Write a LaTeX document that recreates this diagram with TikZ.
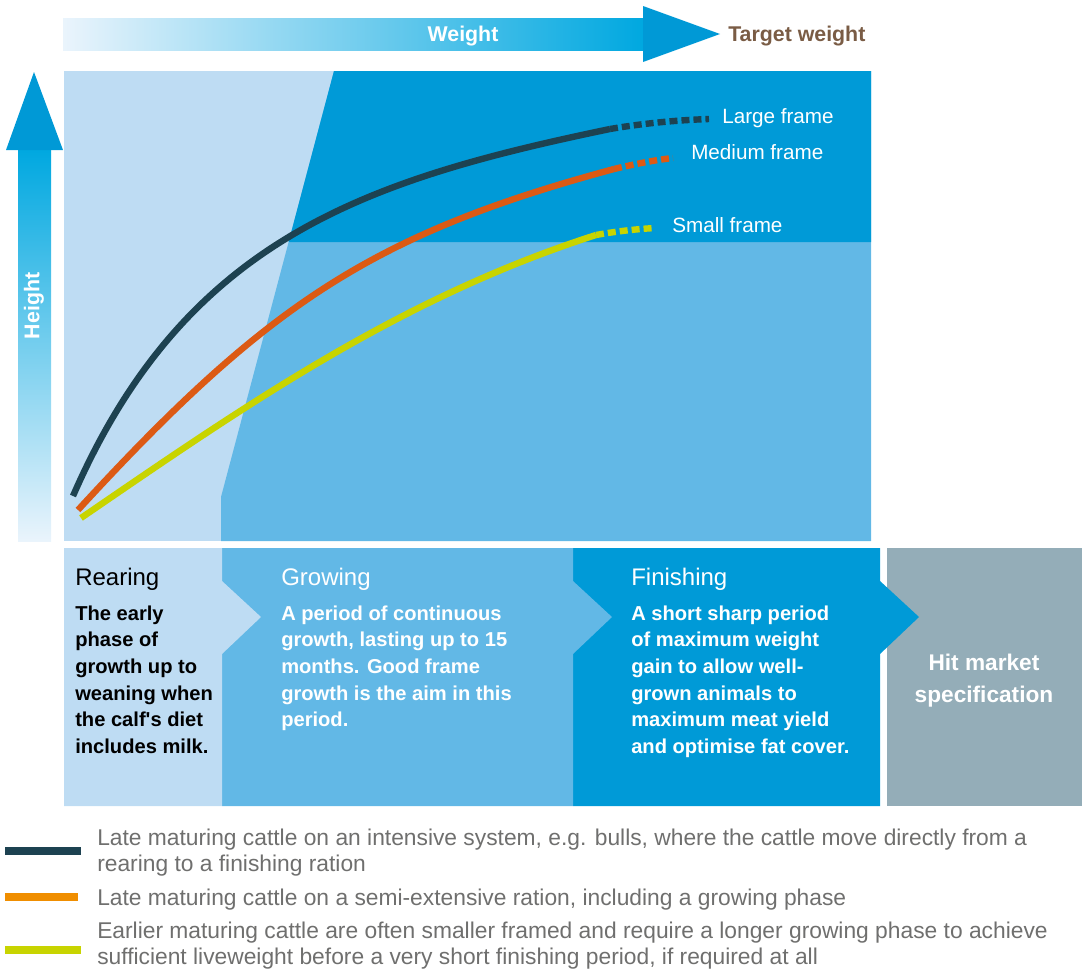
\documentclass[tikz,border=0pt]{standalone}
\usepackage{xcolor}
\usepackage{fontspec}
\setmainfont{Liberation Sans}

\definecolor{rearblue}{RGB}{190,220,243}
\definecolor{growblue}{RGB}{98,184,230}
\definecolor{finblue}{RGB}{0,154,215}
\definecolor{headblue}{RGB}{0,153,214}
\definecolor{cyanblue}{RGB}{0,168,224}
\definecolor{paleblue}{RGB}{234,244,252}
\definecolor{midblue}{RGB}{185,218,243}
\definecolor{marketgrey}{RGB}{148,173,184}
\definecolor{largecol}{RGB}{29,66,81}
\definecolor{mediumcol}{RGB}{220,90,20}
\definecolor{smallcol}{RGB}{200,212,0}
\definecolor{legorange}{RGB}{240,142,0}
\definecolor{targetbrown}{RGB}{122,92,69}
\definecolor{legendgrey}{RGB}{111,111,110}

\begin{document}
\begin{tikzpicture}[x=0.75pt,y=0.75pt,yscale=-1,xscale=1,
  curve/.style={line width=4.8pt},
  dashcurve/.style={line width=4.8pt,dash pattern=on 6pt off 3pt},
  framelabel/.style={anchor=base west,inner sep=0pt,text=white,font=\fontsize{15.5}{18}\selectfont},
  paneltitle/.style={anchor=base west,inner sep=0pt,font=\fontsize{18}{22}\selectfont},
  panelbody/.style={anchor=north west,inner sep=0pt,align=left,font=\fontsize{15.1}{20}\selectfont\bfseries},
  legendtext/.style={anchor=north west,inner sep=0pt,align=left,text=legendgrey,font=\fontsize{17.1}{19.5}\selectfont}]
\useasboundingbox (0,0) rectangle (1082,971);

%Shape: Weight arrow
\shade [left color=paleblue,middle color=midblue,right color=cyanblue] (63,18) rectangle (643,50) ;
\fill [headblue] (643,6) -- (720,34) -- (643,62) -- cycle ;
%Shape: Height arrow
\shade [top color=cyanblue,middle color={rgb,255:red,125;green,195;blue,236},bottom color=paleblue] (18,150) rectangle (51,541) ;
\fill [headblue] (6,150) -- (34,72) -- (63,150) -- cycle ;

%Shape: chart background
\fill [rearblue] (64,71) rectangle (871,541) ;
\fill [growblue] (334,71) -- (871,71) -- (871,541) -- (221,541) -- (221,497) -- cycle ;
\fill [finblue] (334,71) -- (871,71) -- (871,242) -- (288.6,242) -- cycle ;

%Curves: large, medium, small frame
\draw [curve,largecol] (73,496) .. controls (185,239) and (365,180) .. (610,129) ;
\draw [dashcurve,largecol] (610,129) .. controls (645,123) and (680,120) .. (709,119) ;
\draw [curve,mediumcol] (78,510) .. controls (267,304) and (373,234) .. (614,169) ;
\draw [dashcurve,mediumcol] (614,169) .. controls (635,164) and (655,160) .. (673,158) ;
\draw [curve,smallcol] (81,518) .. controls (246,405) and (400,298) .. (596,235) ;
\draw [dashcurve,smallcol] (596,235) .. controls (618,231) and (638,229) .. (655,228) ;

%Shape: phase panels
\fill [marketgrey] (887,548) rectangle (1082,806) ;
\fill [finblue] (573,548) -- (880,548) -- (880,581) -- (919,617) -- (880,654) -- (880,806) -- (573,806) -- cycle ;
\fill [growblue] (222,548) -- (573,548) -- (573,581) -- (612,617) -- (573,654) -- (573,806) -- (222,806) -- cycle ;
\fill [rearblue] (64,548) -- (222,548) -- (222,581) -- (261,617) -- (222,654) -- (222,806) -- (64,806) -- cycle ;

%Legend bars
\fill [largecol] (5,847) rectangle (81,855) ;
\fill [legorange] (5,893) rectangle (78,901) ;
\fill [smallcol] (5,946) rectangle (81,954) ;

% Text Node
\node [anchor=base,inner sep=0pt,text=white,font=\fontsize{16}{19}\selectfont\bfseries] (weightlbl) at (463,41.6) {Weight};
\node [anchor=base west,inner sep=0pt,text=targetbrown,font=\fontsize{16}{19}\selectfont\bfseries] (targetlbl) at (728,41.6) {Target weight};
\node [rotate=90,inner sep=0pt,text=white,font=\fontsize{16}{19}\selectfont\bfseries] (heightlbl) at (34,306) {Height};
% Text Node
\node [framelabel] (largelbl) at (722,123.3) {Large frame};
\node [framelabel] (mediumlbl) at (691,159.3) {Medium frame};
\node [framelabel] (smalllbl) at (672,232.3) {Small frame};
% Text Node
\node [paneltitle,text=black] (rearttl) at (75,585.5) {Rearing};
\node [panelbody,text=black] (rearbody) at (75,605.4) {The early\\phase of\\growth up to\\weaning when\\the calf\textquotesingle s diet\\includes milk.};
\node [paneltitle,text=white] (growttl) at (281,585.5) {Growing};
\node [panelbody,text=white] (growbody) at (281,605.4) {A period of continuous\\growth, lasting up to 15\\months. Good frame\\growth is the aim in this\\period.};
\node [paneltitle,text=white] (finttl) at (631,585.5) {Finishing};
\node [panelbody,text=white] (finbody) at (631,605.4) {A short sharp period\\of maximum weight\\gain to allow well-\\grown animals to\\maximum meat yield\\and optimise fat cover.};
\node [align=center,inner sep=0pt,text=white,font=\fontsize{17}{24}\selectfont\bfseries] (marketlbl) at (984,681) {Hit market\\specification};
% Text Node
\node [legendtext] (leglarge) at (97,829) {Late maturing cattle on an intensive system, e.g. bulls, where the cattle move directly from a\\rearing to a finishing ration};
\node [legendtext] (legmedium) at (97,889) {Late maturing cattle on a semi-extensive ration, including a growing phase};
\node [legendtext] (legsmall) at (97,921.5) {Earlier maturing cattle are often smaller framed and require a longer growing phase to achieve\\sufficient liveweight before a very short finishing period, if required at all};

\end{tikzpicture}
\end{document}
